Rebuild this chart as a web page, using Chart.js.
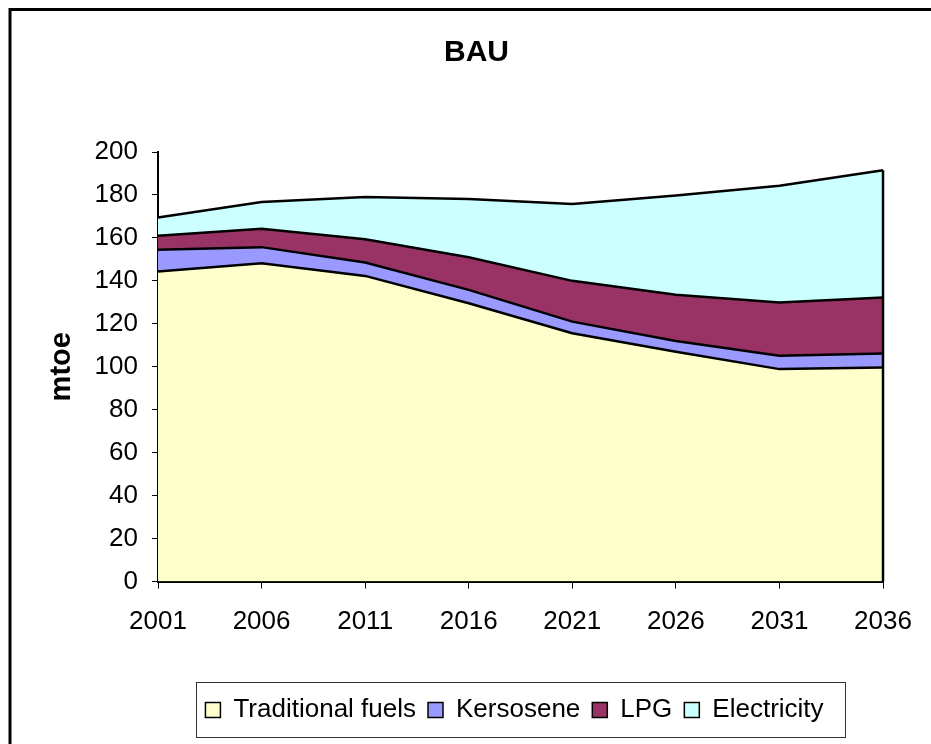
<!DOCTYPE html>
<html>
<head>
<meta charset="utf-8">
<script src="https://cdn.jsdelivr.net/npm/chart.js@4"></script>
<style>
html,body{margin:0;padding:0;background:#fff;}
canvas{display:block;}
</style>
</head>
<body>
<canvas id="c" width="931" height="744"></canvas>
<script>
const years = ["2001","2006","2011","2016","2021","2026","2031","2036"];
const traditionalFuels = [144.3, 148.2, 142.3, 129.6, 115.6, 107.0, 98.9, 99.7];
const kerosene = [10.2, 7.5, 6.2, 6.2, 5.4, 5.0, 6.2, 6.5];
const lpg = [6.5, 8.6, 10.9, 15.2, 19.0, 21.5, 24.8, 26.0];
const electricity = [8.5, 12.4, 19.6, 27.1, 35.8, 46.3, 54.4, 59.3];
const seriesNames = ["Traditional fuels", "Kersosene", "LPG", "Electricity"];
const seriesColors = ["#FFFFCC", "#9999FF", "#993366", "#CCFFFF"];
const yTicks = [0, 20, 40, 60, 80, 100, 120, 140, 160, 180, 200];

const FONT = "'Liberation Sans', Arial, sans-serif";
const allSeries = [traditionalFuels, kerosene, lpg, electricity];

const frame = {
  id: 'frame',
  afterLayout(chart) {
    // horizontal placement of title and legend as in the reference
    if (chart.titleBlock) { chart.titleBlock.left += 30; chart.titleBlock.right += 30; }
    if (chart.legend) { chart.legend.left += 68; chart.legend.right += 68; }
  },
  beforeDraw(chart) {
    const ctx = chart.ctx;
    ctx.save();
    ctx.fillStyle = '#fff';
    ctx.fillRect(0, 0, chart.width, chart.height);
    ctx.strokeStyle = '#000';
    ctx.lineWidth = 3;
    ctx.beginPath();
    ctx.moveTo(10, chart.height + 5);
    ctx.lineTo(10, 9.5);
    ctx.lineTo(chart.width + 5, 9.5);
    ctx.stroke();
    ctx.restore();
  },
  afterDatasetsDraw(chart) {
    const xs = chart.scales.x, ys = chart.scales.y;
    const i = years.length - 1;
    let total = 0;
    allSeries.forEach(s => total += s[i]);
    const ctx = chart.ctx;
    ctx.save();
    ctx.strokeStyle = '#000';
    ctx.lineWidth = 2.5;
    ctx.beginPath();
    const x = xs.getPixelForValue(i);
    ctx.moveTo(x, ys.getPixelForValue(0));
    ctx.lineTo(x, ys.getPixelForValue(total));
    ctx.stroke();
    ctx.restore();
  },
  afterDraw(chart) {
    const lg = chart.legend;
    if (!lg || !lg.legendHitBoxes || !lg.legendHitBoxes.length) return;
    let minL = Infinity, maxR = -Infinity, minT = Infinity, maxB = -Infinity;
    lg.legendHitBoxes.forEach(b => {
      minL = Math.min(minL, b.left); maxR = Math.max(maxR, b.left + b.width);
      minT = Math.min(minT, b.top); maxB = Math.max(maxB, b.top + b.height);
    });
    const cy = (minT + maxB) / 2;
    const ctx = chart.ctx;
    ctx.save();
    ctx.strokeStyle = '#333';
    ctx.lineWidth = 1;
    ctx.strokeRect(Math.round(minL - 9) + 0.5, Math.round(cy - 28) + 0.5, Math.round(maxR - minL + 31), 55);
    ctx.restore();
  }
};

const datasets = allSeries.map((data, k) => ({
  label: seriesNames[k],
  data: data,
  backgroundColor: seriesColors[k],
  borderColor: '#000',
  borderWidth: 2.5,
  pointRadius: 0,
  tension: 0,
  fill: k === 0 ? 'origin' : '-1'
}));

new Chart(document.getElementById('c'), {
  type: 'line',
  data: { labels: years, datasets: datasets },
  plugins: [frame],
  options: {
    responsive: false,
    animation: false,
    layout: { padding: { left: 10, right: 48, top: 0, bottom: 11 } },
    plugins: {
      tooltip: { enabled: false },
      title: {
        display: true,
        text: 'BAU',
        color: '#000',
        font: { family: FONT, size: 30, weight: 'bold' },
        padding: { top: 35, bottom: 81 }
      },
      legend: {
        position: 'bottom',
        labels: {
          color: '#000',
          font: { family: FONT, size: 26 },
          boxWidth: 15,
          boxHeight: 15,
          padding: 12,
          generateLabels(chart) {
            return chart.data.datasets.map((ds, i) => ({
              text: ds.label,
              fillStyle: ds.backgroundColor,
              strokeStyle: '#000',
              lineWidth: 1.5,
              hidden: false,
              datasetIndex: i,
              fontColor: '#000'
            }));
          }
        }
      }
    },
    scales: {
      x: {
        offset: false,
        grid: { display: true, drawOnChartArea: false, drawTicks: true, tickLength: 7, tickColor: '#000', tickWidth: 1 },
        border: { display: true, color: '#000', width: 2 },
        ticks: { color: '#000', font: { family: FONT, size: 26 }, padding: 18, maxRotation: 0, autoSkip: false },
        afterFit(scale) { scale.height = 103.5; }
      },
      y: {
        stacked: true,
        min: 0,
        max: 200,
        afterBuildTicks(scale) { scale.ticks = yTicks.map(v => ({ value: v })); },
        grid: { display: true, drawOnChartArea: false, drawTicks: true, tickLength: 6, tickColor: '#000', tickWidth: 1 },
        border: { display: true, color: '#000', width: 2 },
        ticks: { color: '#000', font: { family: FONT, size: 26 }, padding: 14 },
        title: {
          display: true,
          text: 'mtoe',
          color: '#000',
          font: { family: FONT, size: 29, weight: 'bold' },
          padding: { top: 35, bottom: 0 }
        },
        afterFit(scale) { scale.width = 148; }
      }
    }
  }
});
</script>
</body>
</html>
